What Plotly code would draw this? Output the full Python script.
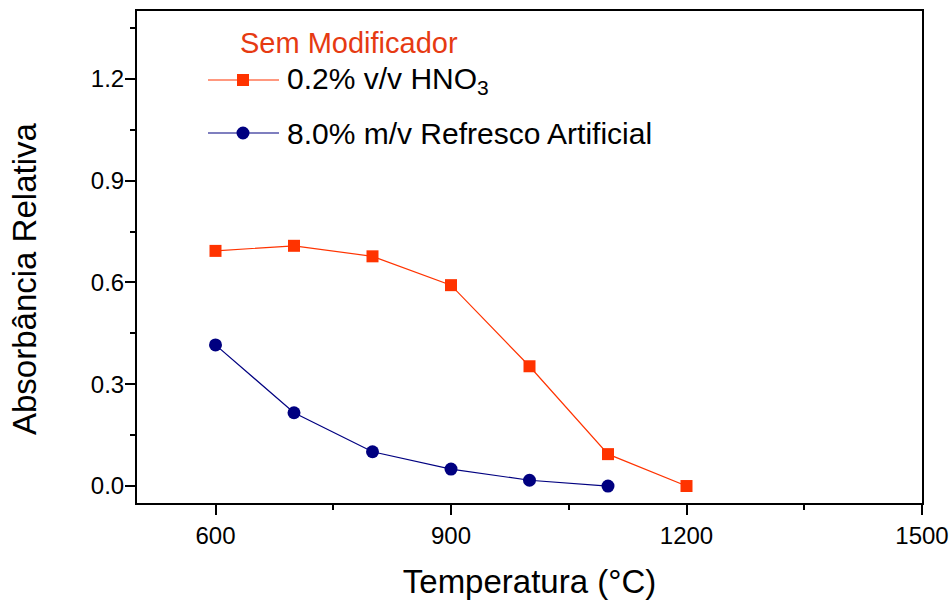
import plotly.graph_objects as go

# Data
temperature = [600, 700, 800, 900, 1000, 1100, 1200]
hno3_abs = [0.693, 0.708, 0.677, 0.592, 0.353, 0.094, 0.0]
temperature_refresco = [600, 700, 800, 900, 1000, 1100]
refresco_abs = [0.416, 0.216, 0.101, 0.050, 0.017, 0.0]

legend_title = "Sem Modificador"
name_hno3 = "0.2% v/v HNO<sub>3</sub>"
name_refresco = "8.0% m/v Refresco Artificial"
x_title = "Temperatura (°C)"
y_title = "Absorbância Relativa"

RED = "#FF3300"
BLUE = "#000080"
TITLE_RED = "#E63A12"
FONT = "Liberation Sans, Arial, sans-serif"

W, H = 952, 600
L, R, T, B = 137, 30, 11, 97
PW, PH = W - L - R, H - T - B


def px_x(px):
    return (px - L) / PW


def px_y(py):
    return (H - B - py) / PH


fig = go.Figure()
fig.add_trace(go.Scatter(
    x=temperature, y=hno3_abs, mode="lines+markers", name=name_hno3,
    line=dict(color=RED, width=1.2),
    marker=dict(symbol="square", size=12, color=RED),
    showlegend=False, cliponaxis=False,
))
fig.add_trace(go.Scatter(
    x=temperature_refresco, y=refresco_abs, mode="lines+markers", name=name_refresco,
    line=dict(color=BLUE, width=1.2),
    marker=dict(symbol="circle", size=13, color=BLUE),
    showlegend=False, cliponaxis=False,
))

axis_common = dict(
    showline=True, linecolor="black", linewidth=2, mirror=True,
    ticks="outside", ticklen=10, tickwidth=2, tickcolor="black",
    showgrid=False, zeroline=False,
    tickfont=dict(family=FONT, size=24, color="black"),
)

fig.update_xaxes(
    range=[500, 1500], tick0=0, dtick=300,
    minor=dict(ticks="outside", ticklen=5, tickwidth=1.5, tickcolor="black", dtick=150, tick0=0, showgrid=False),
    title=dict(text=x_title, font=dict(family=FONT, size=33, color="black"), standoff=22),
    **axis_common,
)
fig.update_yaxes(
    range=[-0.05, 1.4], tick0=0, dtick=0.3, tickformat=".1f",
    minor=dict(ticks="outside", ticklen=5, tickwidth=1.5, tickcolor="black", dtick=0.15, tick0=0, showgrid=False),
    ticklabelstandoff=-4,
    **axis_common,
)

shapes = []
annotations = []

# Y axis title
annotations.append(dict(
    text=y_title, xref="paper", yref="paper", x=px_x(24), y=px_y(279),
    showarrow=False, textangle=-90, xanchor="center", yanchor="middle",
    font=dict(family=FONT, size=33, color="black"),
))

# Manual legend
annotations.append(dict(
    text=legend_title, xref="paper", yref="paper", x=px_x(238), y=px_y(43),
    showarrow=False, xanchor="left", yanchor="middle",
    font=dict(family=FONT, size=29, color=TITLE_RED),
))

legend_items = [
    (name_hno3, RED, "rect", 80, 12),
    (name_refresco, BLUE, "circle", 133, 13),
]
for label, color, kind, ypx, msize in legend_items:
    shapes.append(dict(
        type="line", xref="paper", yref="paper",
        x0=px_x(208), x1=px_x(279), y0=px_y(ypx), y1=px_y(ypx),
        line=dict(color=color, width=1.2),
    ))
    shapes.append(dict(
        type=kind, xref="paper", yref="paper",
        xsizemode="pixel", ysizemode="pixel",
        xanchor=px_x(243), yanchor=px_y(ypx),
        x0=-msize / 2, x1=msize / 2, y0=-msize / 2, y1=msize / 2,
        fillcolor=color, line=dict(width=0),
    ))
    annotations.append(dict(
        text=label, xref="paper", yref="paper", x=px_x(285), y=px_y(ypx),
        showarrow=False, xanchor="left", yanchor="middle",
        font=dict(family=FONT, size=30, color="black"),
    ))

fig.update_layout(
    width=W, height=H,
    margin=dict(l=L, r=R, t=T, b=B, autoexpand=False),
    paper_bgcolor="white", plot_bgcolor="white",
    shapes=shapes, annotations=annotations,
    showlegend=False,
)

fig.write_html("out.html")
